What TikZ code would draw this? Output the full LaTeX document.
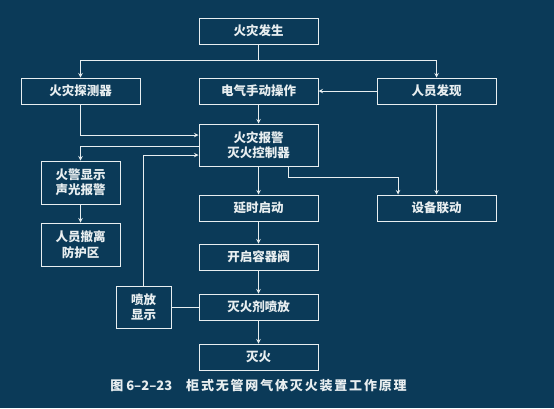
\documentclass[tikz,border=0pt]{standalone}
\usepackage{fontspec}
\newfontfamily\cjk{Noto Sans CJK SC}
\newfontfamily\capfont{Noto Sans CJK SC}[LetterSpace=14]
\usetikzlibrary{arrows, positioning, calc}
\definecolor{bgcol}{HTML}{0B3A58}
\definecolor{linecol}{HTML}{E8EEF0}

\begin{document}
\begin{tikzpicture}[
    x=1pt, y=1pt,
    node distance=19pt and 58pt,
    box/.style={rectangle, draw=linecol, line width=1pt, text=linecol, minimum width=119pt, minimum height=26pt, align=center, inner sep=2pt, font=\cjk\bfseries\fontsize{12.5}{15.5}\selectfont},
    smallbox/.style={box, minimum width=79pt, minimum height=43pt},
    arrow/.style={->, >=stealth, draw=linecol, line width=1pt},
    link/.style={draw=linecol, line width=1pt}
]
\fill[bgcol] (0,0) rectangle (554,-408);
\useasboundingbox (0,0) rectangle (554,-408);

% Nodos
\node[box] (fire) at (258.5,-31) {火灾发生};
\node[box, below=33pt of fire] (manual) {电气手动操作};
\node[box, left=of manual] (detector) {火灾探测器};
\node[box, right=of manual] (person) {人员发现};
\node[box, below=of manual, minimum height=42pt] (ctrl) {火灾报警\\灭火控制器};
\node[box, below=28pt of ctrl] (delay) {延时启动};
\node[box, right=of delay] (linkage) {设备联动};
\node[box, below=22pt of delay] (valve) {开启容器阀};
\node[box, below=23pt of valve] (spray) {灭火剂喷放};
\node[box, below=23pt of spray] (out) {灭火};
\node[smallbox, below=56pt of detector] (alarm) {火警显示\\声光报警};
\node[smallbox, below=18pt of alarm] (evac) {人员撤离\\防护区};
\node[smallbox, left=27pt of spray, minimum width=55pt, minimum height=42pt] (jetshow) {喷放\\显示};
\node[text=linecol, font=\cjk\bfseries\fontsize{13}{15}\selectfont] (title) at (258.5,-386) {图\ 6–2–23\hspace{14pt}{\capfont 柜式无管网气体灭火装置工作原理}};

% Flechas
\draw[link] (fire.south) -- ++(0,-16) coordinate (split);
\draw[arrow] (split) -| (detector.north);
\draw[arrow] (split) -| (person.north);
\draw[arrow] (person) -- (manual);
\draw[arrow] (manual) -- (ctrl);
\draw[arrow] (detector.south) |- ([yshift=10pt]ctrl.west);
\draw[arrow] ([yshift=-1pt]ctrl.west) -| (alarm.north);
\draw[arrow] (jetshow.north) |- ([yshift=-10pt]ctrl.west);
\draw[arrow] (alarm) -- (evac);
\draw[arrow] (ctrl) -- (delay);
\draw[arrow] ([xshift=30pt]ctrl.south) -- ++(0,-11) -| ([xshift=-38.5pt]linkage.north);
\draw[arrow] (person) -- (linkage);
\draw[arrow] (delay) -- (valve);
\draw[arrow] (valve) -- (spray);
\draw[arrow] (spray) -- (out);
\draw[link] (spray) -- (jetshow);

\end{tikzpicture}
\end{document}
